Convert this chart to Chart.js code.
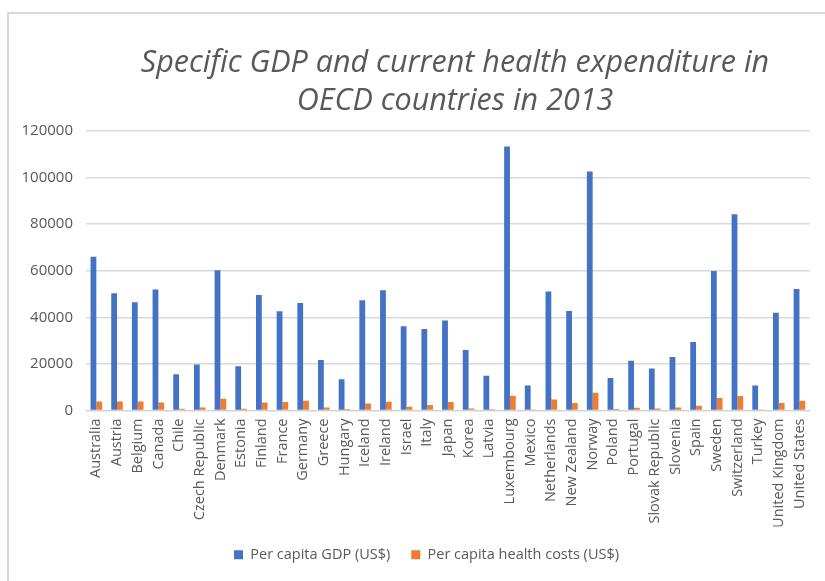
<!DOCTYPE html>
<html lang="en">
<head>
    <meta charset="UTF-8">
    <title>GDP and health expenditure, OECD 2013</title>
    <script src="https://cdn.jsdelivr.net/npm/chart.js"></script>
    <style>
        body {
            margin: 0;
            background: #ffffff;
            overflow: hidden;
        }
        #frame {
            position: absolute;
            left: 7px;
            top: 12px;
            width: 900px;
            height: 700px;
            border: 2px solid #d9d9d9;
        }
        #title {
            position: absolute;
            left: 105px;
            width: 700px;
            top: 41px;
            text-align: center;
            font-family: "Open Sans", sans-serif;
            font-style: italic;
            font-size: 30.5px;
            line-height: 38px;
            color: #595959;
            white-space: nowrap;
        }
        #wrap {
            position: absolute;
            left: 0;
            top: 0;
            width: 825px;
            height: 581px;
        }
    </style>
</head>
<body>
    <div id="frame"></div>
    <div id="wrap"><canvas id="gdpChart"></canvas></div>
    <div id="title">Specific GDP and current health expenditure in<br>OECD countries in 2013</div>

    <script>
        const countries = [
            "Australia", "Austria", "Belgium", "Canada", "Chile", "Czech Republic",
            "Denmark", "Estonia", "Finland", "France", "Germany", "Greece", "Hungary",
            "Iceland", "Ireland", "Israel", "Italy", "Japan", "Korea", "Latvia",
            "Luxembourg", "Mexico", "Netherlands", "New Zealand", "Norway", "Poland",
            "Portugal", "Slovak Republic", "Slovenia", "Spain", "Sweden", "Switzerland",
            "Turkey", "United Kingdom", "United States"
        ];

        const gdpPerCapita = [
            66000, 50300, 46500, 51900, 15600, 19700,
            60200, 19000, 49600, 42600, 46200, 21700, 13400,
            47300, 51600, 36200, 35000, 38600, 26000, 14900,
            113300, 10700, 51100, 42700, 102600, 13900,
            21400, 18000, 23000, 29400, 59900, 84300,
            10700, 42000, 52200
        ];

        const healthPerCapita = [
            3900, 3900, 3900, 3400, 800, 1300,
            5000, 800, 3400, 3600, 4200, 1300, 600,
            3000, 3800, 1600, 2400, 3600, 900, 500,
            6300, 400, 4700, 3200, 7600, 600,
            1200, 900, 1300, 2000, 5400, 6200,
            400, 3200, 4200
        ];

        const yTicks = [0, 20000, 40000, 60000, 80000, 100000, 120000];

        const textColor = "#595959";
        const fontFamily = "'Open Sans', sans-serif";

        // nudge the legend a little to the right of the canvas centre
        const legendShift = {
            id: "legendShift",
            afterLayout(chart) {
                const lg = chart.legend;
                if (lg) {
                    lg.left += 19;
                    lg.right += 19;
                }
            }
        };

        const ctx = document.getElementById("gdpChart").getContext("2d");
        new Chart(ctx, {
            type: "bar",
            data: {
                labels: countries,
                datasets: [
                    {
                        label: "Per capita GDP (US$)",
                        data: gdpPerCapita,
                        backgroundColor: "#4472C4",
                        borderWidth: 0,
                        categoryPercentage: 0.56,
                        barPercentage: 1.0
                    },
                    {
                        label: "Per capita health costs (US$)",
                        data: healthPerCapita,
                        backgroundColor: "#ED7D31",
                        borderWidth: 0,
                        categoryPercentage: 0.56,
                        barPercentage: 1.0
                    }
                ]
            },
            plugins: [legendShift],
            options: {
                responsive: true,
                maintainAspectRatio: false,
                animation: false,
                layout: {
                    padding: { top: 131, right: 10, bottom: 9, left: 0 }
                },
                plugins: {
                    title: { display: false },
                    tooltip: { enabled: false },
                    legend: {
                        position: "bottom",
                        labels: {
                            boxWidth: 9,
                            boxHeight: 9,
                            padding: 21,
                            color: textColor,
                            font: { family: fontFamily, size: 14.5 }
                        }
                    }
                },
                scales: {
                    x: {
                        grid: { display: false, drawTicks: false },
                        border: { display: true, color: "#d0d0d0", width: 1 },
                        ticks: {
                            color: textColor,
                            font: { family: fontFamily, size: 14.5 },
                            minRotation: 90,
                            maxRotation: 90,
                            autoSkip: false,
                            padding: 8
                        },
                        afterFit: scale => { scale.height = 116; }
                    },
                    y: {
                        min: 0,
                        max: 120000,
                        afterBuildTicks: scale => {
                            scale.ticks = yTicks.map(v => ({ value: v }));
                        },
                        grid: { color: "#d9d9d9", lineWidth: 1.5, drawTicks: false },
                        border: { display: false },
                        ticks: {
                            color: textColor,
                            font: { family: fontFamily, size: 15 },
                            padding: 13,
                            callback: value => String(value)
                        },
                        afterFit: scale => { scale.width = 86; }
                    }
                }
            }
        });
    </script>
</body>
</html>
